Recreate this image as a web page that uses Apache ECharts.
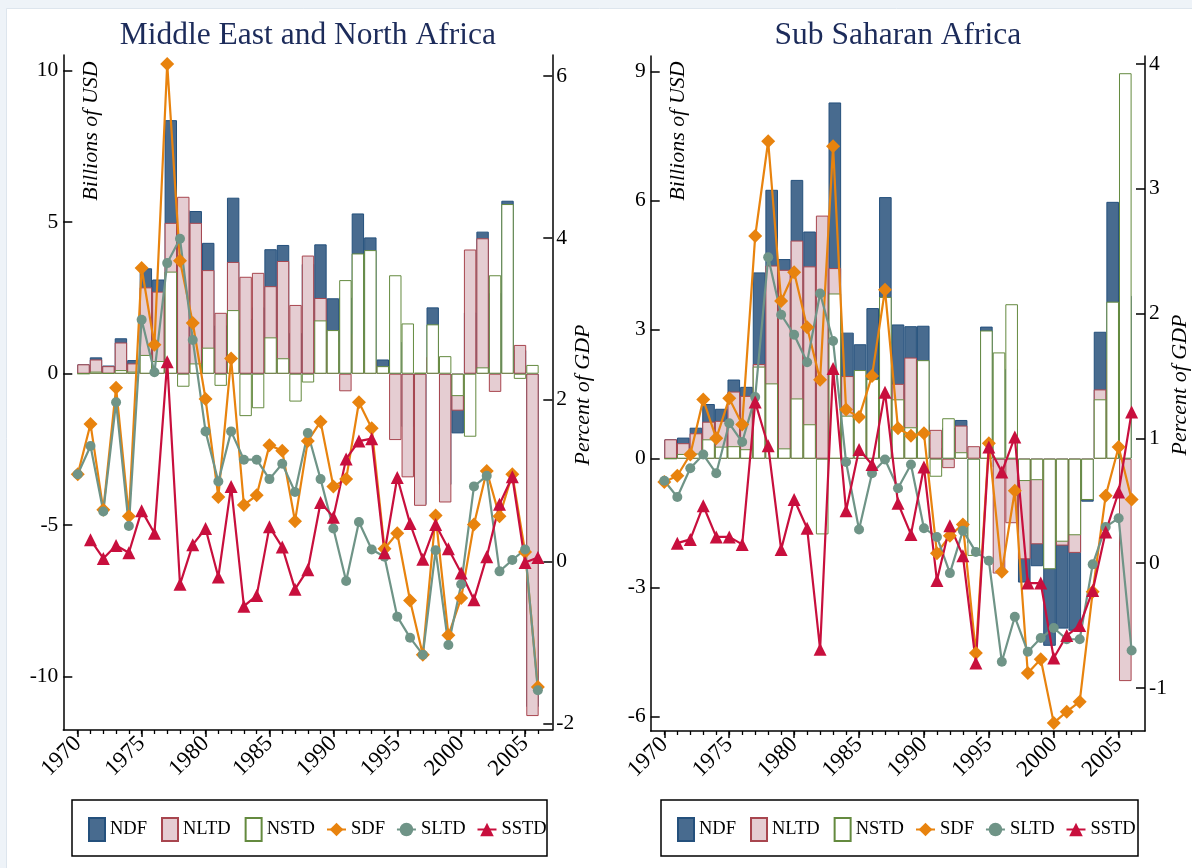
<!DOCTYPE html>
<html><head><meta charset="utf-8">
<script src="https://cdn.jsdelivr.net/npm/echarts@6/dist/echarts.min.js"></script>
<style>html,body{margin:0;padding:0;background:#fff}#c{width:1192px;height:868px}</style>
</head><body><div id="c"></div>
<script>
const years = [1970,1971,1972,1973,1974,1975,1976,1977,1978,1979,1980,1981,1982,1983,1984,1985,1986,1987,1988,1989,1990,1991,1992,1993,1994,1995,1996,1997,1998,1999,2000,2001,2002,2003,2004,2005,2006];
const xLabelYears = [1970,1975,1980,1985,1990,1995,2000,2005];
const menaLeftTicks = [-10,-5,0,5,10];
const menaRightTicks = [-2,0,2,4,6];
const ssaLeftTicks = [-6,-3,0,3,6,9];
const ssaRightTicks = [-1,0,1,2,3,4];

// Middle East and North Africa (billions of USD)
const menaNDF  = [0.31,0.54,0.27,1.17,0.45,3.48,3.11,8.37,5.41,5.37,4.32,1.60,5.81,1.80,2.19,4.11,4.25,1.35,3.62,4.27,2.49,2.52,5.29,4.50,0.47,1.06,-1.76,-4.33,2.19,-3.67,-1.97,2.02,4.69,2.66,5.71,0.78,-11.00];
const menaNLTD = [0.31,0.47,0.25,1.03,0.34,2.85,2.71,4.98,5.84,4.98,3.42,2.01,3.69,3.20,3.33,2.89,3.72,2.27,3.90,2.50,1.05,-0.58,1.32,0.42,0.22,-2.19,-3.42,-4.36,0.56,-4.25,-1.22,4.10,4.47,-0.60,0.11,0.95,-11.30];
const menaNSTD = [0.00,0.07,0.02,0.12,0.07,0.62,0.42,3.37,-0.43,0.34,0.86,-0.40,2.10,-1.40,-1.14,1.20,0.51,-0.92,-0.29,1.76,1.44,3.09,3.97,4.08,0.25,3.25,1.66,0.03,1.63,0.58,-0.74,-2.08,0.21,3.25,5.60,-0.17,0.29];
// (percent of GDP)
const menaSDF  = [1.08,1.70,0.64,2.15,0.56,3.63,2.68,6.15,3.72,2.95,2.01,0.80,2.51,0.70,0.82,1.44,1.37,0.50,1.49,1.73,0.93,1.02,1.97,1.65,0.16,0.35,-0.48,-1.15,0.57,-0.91,-0.45,0.46,1.12,0.56,1.08,0.12,-1.55];
const menaSLTD = [1.08,1.43,0.62,1.97,0.44,2.99,2.34,3.69,3.99,2.74,1.61,0.99,1.61,1.26,1.26,1.02,1.21,0.86,1.59,1.02,0.41,-0.24,0.49,0.15,0.06,-0.68,-0.94,-1.15,0.14,-1.03,-0.28,0.93,1.06,-0.12,0.02,0.15,-1.59];
const menaSSTD = [null,0.27,0.04,0.20,0.11,0.63,0.35,2.47,-0.28,0.21,0.41,-0.19,0.93,-0.55,-0.42,0.43,0.18,-0.34,-0.10,0.73,0.55,1.27,1.49,1.52,0.11,1.04,0.47,0.03,0.46,0.16,-0.14,-0.47,0.06,0.71,1.05,-0.01,0.05];

// Sub Saharan Africa (billions of USD)
const ssaNDF  = [0.45,0.49,0.72,1.27,1.16,1.84,1.67,4.33,6.25,4.64,6.48,5.28,3.89,8.28,2.93,2.66,3.50,6.08,3.12,3.08,3.09,0.25,0.72,0.90,-1.97,3.07,-0.20,2.09,-2.88,-2.50,-4.35,-3.95,-4.00,-1.00,2.95,5.97,3.79];
const ssaNLTD = [0.45,0.36,0.59,0.86,0.88,1.56,1.46,2.20,4.49,4.39,5.07,4.47,5.65,4.43,1.92,0.60,1.65,2.31,1.74,2.35,0.80,0.67,-0.22,0.77,0.29,0.09,-2.67,-1.50,-2.34,-1.99,-1.78,-2.02,-2.19,-0.04,1.61,2.32,-5.17];
const ssaNSTD = [0.00,0.11,0.12,0.45,0.28,0.29,0.22,2.14,1.75,0.24,1.40,0.80,-1.76,3.84,1.00,2.06,1.85,3.76,1.38,0.73,2.29,-0.42,0.94,0.15,-2.26,2.98,2.47,3.59,-0.52,-0.50,-2.57,-1.93,-1.78,-0.96,1.38,3.65,8.96];
// (percent of GDP)
const ssaSDF  = [0.65,0.70,0.87,1.31,1.00,1.32,1.11,2.62,3.38,2.10,2.33,1.89,1.47,3.34,1.23,1.17,1.50,2.19,1.08,1.02,1.04,0.08,0.22,0.31,-0.72,0.96,-0.07,0.58,-0.88,-0.77,-1.28,-1.19,-1.11,-0.23,0.54,0.93,0.51];
const ssaSLTD = [0.66,0.53,0.76,0.87,0.72,1.12,0.97,1.33,2.45,1.99,1.83,1.61,2.16,1.78,0.81,0.27,0.72,0.83,0.60,0.79,0.28,0.21,-0.08,0.26,0.09,0.02,-0.79,-0.43,-0.71,-0.60,-0.52,-0.61,-0.61,-0.01,0.29,0.36,-0.70];
const ssaSSTD = [null,0.16,0.19,0.46,0.21,0.21,0.15,1.29,0.94,0.11,0.51,0.28,-0.69,1.56,0.42,0.91,0.79,1.37,0.48,0.23,0.77,-0.14,0.30,0.06,-0.80,0.93,0.73,1.01,-0.16,-0.16,-0.76,-0.58,-0.50,-0.22,0.25,0.57,1.21];

const FONT = 'Liberation Serif';
const C = {
  ndfFill:'#486b8f', ndfLine:'#24507c',
  nltdFill:'#e5cdd2', nltdLine:'#a8464f',
  nstdFill:'#ffffff', nstdLine:'#648a3f',
  sdf:'#e8830e', sltd:'#6f9487', sstd:'#c80f3d'
};

function pairs(vals){ const out=[]; years.forEach((y,i)=>{ if(vals[i]!==null) out.push([y, vals[i]]); }); return out; }
const plain = v => String(v);

function xAxesFor(grid, lmin, lmax, bmin, bmax){
  return [
    {type:'value', gridIndex:grid, min:lmin, max:lmax, position:'bottom',
     axisLine:{show:true, onZero:false, lineStyle:{color:'#000', width:1.5}},
     axisTick:{show:true, customValues:years, length:4, lineStyle:{color:'#000', width:1.3}},
     axisLabel:{show:true, customValues:xLabelYears, formatter:plain, rotate:45, margin:10, fontSize:23, fontFamily:FONT, color:'#000'},
     splitLine:{show:false}},
    {type:'value', gridIndex:grid, min:lmin, max:lmax, position:'bottom',
     axisLine:{show:false, onZero:false},
     axisTick:{show:true, customValues:xLabelYears, length:7, lineStyle:{color:'#000', width:1.5}},
     axisLabel:{show:false}, splitLine:{show:false}},
    {type:'value', gridIndex:grid, min:bmin, max:bmax, position:'top', show:false, splitLine:{show:false}}
  ];
}
function yAxesFor(grid, lmin, lmax, lticks, rmin, rmax, rticks){
  const common = {type:'value', gridIndex:grid, splitLine:{show:false}};
  return [
    Object.assign({}, common, {min:lmin, max:lmax, position:'left',
      axisLine:{show:true, onZero:false, lineStyle:{color:'#000', width:1.5}},
      axisTick:{show:true, inside:true, length:9, customValues:lticks, lineStyle:{color:'#000', width:1.5}},
      axisLabel:{show:true, customValues:lticks, formatter:plain, margin:5, fontSize:21.5, fontFamily:FONT, color:'#000'}}),
    Object.assign({}, common, {min:rmin, max:rmax, position:'right',
      axisLine:{show:true, onZero:false, lineStyle:{color:'#000', width:1.5}},
      axisTick:{show:true, inside:true, length:9, customValues:rticks, lineStyle:{color:'#000', width:1.5}},
      axisLabel:{show:true, customValues:rticks, formatter:plain, margin:4, fontSize:21.5, fontFamily:FONT, color:'#000'}})
  ];
}
function barS(name, vals, xi, yi, fill, line, bw){
  return {type:'bar', name:name, xAxisIndex:xi, yAxisIndex:yi, data:pairs(vals), barWidth:bw, barGap:'-100%',
    itemStyle:{color:fill, borderColor:line, borderWidth:1}, emphasis:{disabled:true}, animation:false};
}
function lineS(name, vals, xi, yi, color, symbol, size){
  return {type:'line', name:name, xAxisIndex:xi, yAxisIndex:yi, data:pairs(vals), symbol:symbol, symbolSize:size,
    showSymbol:true, lineStyle:{color:color, width:2.2}, itemStyle:{color:color}, emphasis:{disabled:true}, animation:false};
}

const legendText = {fontSize:18.5, fontFamily:FONT, color:'#000'};
function legends(offset){
  return [
    {left:88+offset, top:817, padding:0, itemWidth:16, itemHeight:23, itemGap:14, selectedMode:false, icon:'rect',
     textStyle:legendText, data:['NDF','NLTD','NSTD']},
    {left:326+offset, top:820, padding:0, itemWidth:19, itemHeight:17, itemGap:11, selectedMode:false,
     textStyle:legendText, data:['SDF','SLTD','SSTD']}
  ];
}

const option = {
  backgroundColor:'#eef3f8',
  animation:false,
  textStyle:{fontFamily:FONT},
  grid:[
    {left:63.3, top:55, width:489, height:675, containLabel:false},
    {left:650.7, top:56, width:494.3, height:675, containLabel:false}
  ],
  xAxis: [].concat(
    xAxesFor(0, 1968.87, 2007.13, 1968.38, 2007.59),
    xAxesFor(1, 1968.95, 2007.03, 1968.42, 2007.56)
  ),
  yAxis: [].concat(
    yAxesFor(0, -11.76, 10.52, menaLeftTicks, -2.081, 6.262, menaRightTicks),
    yAxesFor(1, -6.33, 9.36, ssaLeftTicks, -1.345, 4.063, ssaRightTicks)
  ),
  legend: [].concat(legends(0), legends(589)),
  series: [
    barS('NDF', menaNDF, 2, 0, C.ndfFill, C.ndfLine, 12.4),
    barS('NLTD', menaNLTD, 2, 0, C.nltdFill, C.nltdLine, 12.4),
    barS('NSTD', menaNSTD, 2, 0, C.nstdFill, C.nstdLine, 12.4),
    lineS('SDF', menaSDF, 0, 1, C.sdf, 'diamond', 14),
    lineS('SLTD', menaSLTD, 0, 1, C.sltd, 'circle', 10),
    lineS('SSTD', menaSSTD, 0, 1, C.sstd, 'triangle', 13),
    barS('NDF', ssaNDF, 5, 2, C.ndfFill, C.ndfLine, 12.6),
    barS('NLTD', ssaNLTD, 5, 2, C.nltdFill, C.nltdLine, 12.6),
    barS('NSTD', ssaNSTD, 5, 2, C.nstdFill, C.nstdLine, 12.6),
    lineS('SDF', ssaSDF, 3, 3, C.sdf, 'diamond', 14),
    lineS('SLTD', ssaSLTD, 3, 3, C.sltd, 'circle', 10),
    lineS('SSTD', ssaSSTD, 3, 3, C.sstd, 'triangle', 13)
  ],
  graphic: [
    {type:'rect', z:-10, shape:{x:6.5, y:8.5, width:1190, height:866}, style:{fill:'#ffffff', stroke:'#dde5ed', lineWidth:1}},
    {type:'text', x:307.8, y:36, style:{text:'Middle East and North Africa', font:'31.5px "Liberation Serif"', fill:'#1c2b5a', textAlign:'center', textVerticalAlign:'middle'}},
    {type:'text', x:897.9, y:36, style:{text:'Sub Saharan Africa', font:'31.5px "Liberation Serif"', fill:'#1c2b5a', textAlign:'center', textVerticalAlign:'middle'}},
    {type:'text', x:91.5, y:131, rotation:Math.PI/2, style:{text:'Billions of USD', font:'italic 22px "Liberation Serif"', fill:'#000', textAlign:'center', textVerticalAlign:'middle'}},
    {type:'text', x:678, y:131, rotation:Math.PI/2, style:{text:'Billions of USD', font:'italic 22px "Liberation Serif"', fill:'#000', textAlign:'center', textVerticalAlign:'middle'}},
    {type:'text', x:583, y:395, rotation:Math.PI/2, style:{text:'Percent of GDP', font:'italic 22px "Liberation Serif"', fill:'#000', textAlign:'center', textVerticalAlign:'middle'}},
    {type:'text', x:1180, y:385, rotation:Math.PI/2, style:{text:'Percent of GDP', font:'italic 22px "Liberation Serif"', fill:'#000', textAlign:'center', textVerticalAlign:'middle'}},
    {type:'rect', shape:{x:72, y:800, width:475, height:56}, style:{fill:'none', stroke:'#000', lineWidth:1.5}},
    {type:'rect', shape:{x:661, y:800, width:477, height:56}, style:{fill:'none', stroke:'#000', lineWidth:1.5}}
  ]
};
const chart = echarts.init(document.getElementById('c'), null, {renderer:'canvas'});
chart.setOption(option);
</script></body></html>
